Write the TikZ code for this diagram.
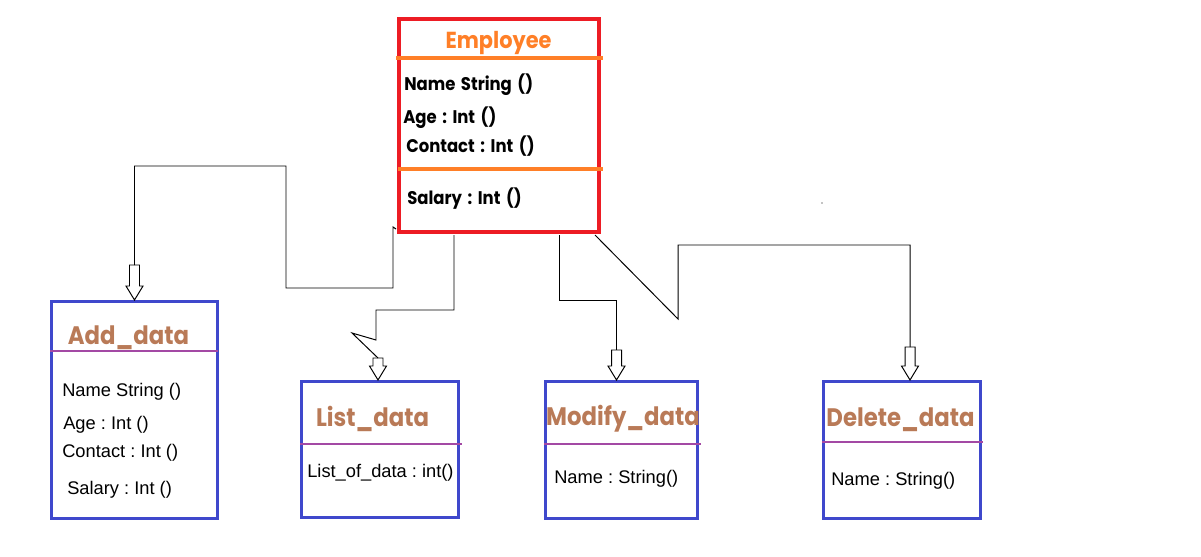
\documentclass[tikz,border=0pt]{standalone}
\usepackage{fontspec}
\setmainfont{Liberation Sans}
\newfontfamily\gothicfont{Poppins}[FakeStretch=0.9, WordSpace=1.6]
\usetikzlibrary{calc}
\frenchspacing

\definecolor{empred}{HTML}{ED1C24}
\definecolor{emporange}{HTML}{FF7F27}
\definecolor{boxblue}{HTML}{3F48CC}
\definecolor{linepurple}{HTML}{A349A4}
\definecolor{titlebrown}{HTML}{B97A57}

\newcommand{\pxu}{0.025cm}

\tikzset{
  empbox/.style={draw=empred, line width=2.85pt, rectangle},
  classbox/.style={draw=boxblue, line width=2.13pt, rectangle},
  empline/.style={draw=emporange, line width=2.6pt},
  classline/.style={draw=linepurple, line width=2.1pt},
  emptitle/.style={font=\gothicfont\bfseries\fontsize{16.5}{18}\selectfont, text=emporange, anchor=base, inner sep=0},
  empfield/.style={font=\gothicfont\bfseries\fontsize{13}{15}\selectfont, anchor=base west, inner sep=0},
  classtitle/.style={font=\gothicfont\bfseries\fontsize{18}{20}\selectfont, text=titlebrown, anchor=base, inner sep=0},
  classfield/.style={font=\fontsize{13}{15}\selectfont, anchor=base west, inner sep=0},
  conn/.style={draw, line width=0.7pt},
  pics/blockarrow/.style={code={
    \draw[line width=0.7pt, fill=white] (-5,0) -- (-5,#1-14) -- (-8.5,#1-14) -- (0,#1)
      -- (8.5,#1-14) -- (5,#1-14) -- (5,0) -- cycle;}}
}

\begin{document}
\begin{tikzpicture}[x=0.025cm, y=-0.025cm]
  \useasboundingbox (0,0) rectangle (1201,557);

  % Employee class
  \node[empbox, minimum width=200*\pxu, minimum height=213*\pxu] (emp) at (499,125.5) {};
  \draw[empline] (396,58) -- (603,58);
  \draw[empline] (398,169) -- (603,169);
  \node[emptitle] (emptitle) at (498.5,49) {Employee};
  \node[empfield] (empname) at (404,91) {Name String ()};
  \node[empfield] (empage) at (403,124) {Age : Int ()};
  \node[empfield] (empcontact) at (406,153) {Contact : Int ()};
  \node[empfield] (empsalary) at (407,205) {Salary : Int ()};

  % classes below
  \begin{scope}[every node/.style={classbox}]
    \node[minimum width=166*\pxu, minimum height=217*\pxu] (add) at (134.5,410) {};
    \node[minimum width=157*\pxu, minimum height=136*\pxu] (list) at (380,449.5) {};
    \node[minimum width=152*\pxu, minimum height=137*\pxu] (modify) at (621.5,450) {};
    \node[minimum width=157*\pxu, minimum height=137*\pxu] (delete) at (902,450) {};
  \end{scope}

  \draw[classline] (50,351) -- (218,351);
  \draw[classline] (300,444) -- (462,444);
  \draw[classline] (544,444) -- (701,444);
  \draw[classline] (822,442) -- (983,442);

  \node[classtitle] (addtitle) at (128.5,344) {Add\_data};
  \node[classfield] (addname) at (62,396) {Name String ()};
  \node[classfield] (addage) at (63,429) {Age : Int ()};
  \node[classfield] (addcontact) at (62,457) {Contact : Int ()};
  \node[classfield] (addsalary) at (67,494) {Salary : Int ()};

  \node[classtitle] (listtitle) at (372.5,426) {List\_data};
  \node[classfield] (listfield) at (307,477) {List\_of\_data : int()};

  \node[classtitle] (modifytitle) at (623,425) {Modify\_data};
  \node[classfield] (modifyfield) at (554,483) {Name : String()};

  \node[classtitle] (deletetitle) at (900.5,426) {Delete\_data};
  \node[classfield] (deletefield) at (831,485) {Name : String()};

  % arrow tails
  \coordinate (addtail) at ($(add.north)+(0,-35)$);
  \coordinate (listtail) at ($(list.north)+(-2,-22)$);
  \coordinate (modtail) at ($(modify.north)+(-5,-30)$);
  \coordinate (deltail) at ($(delete.north)+(8,-33)$);

  \pic at (addtail) {blockarrow=35};
  \pic at (listtail) {blockarrow=22};
  \pic at (modtail) {blockarrow=30};
  \pic at (deltail) {blockarrow=33};

  % connectors
  \draw[conn] ($(emp.south west)+(-1,-5)$) -- ++(-3,-2) |- (286,288) |- ($(addtail)+(0,-99)$) -- (addtail);
  \draw[conn] ($(emp.south)+(-45,1)$) |- (376,310) -- ++(0,30) -- ++(-24,-7) -- (listtail);
  \draw[conn] ($(emp.south)+(60,1)$) |- ($(modtail)+(0,-50)$) -- (modtail);
  \draw[conn] ($(emp.south east)+(-6,1)$) -- ++(83,84) |- ($(deltail)+(0,-102)$) -- (deltail);

  \fill (822,203) circle (0.6);
\end{tikzpicture}
\end{document}
